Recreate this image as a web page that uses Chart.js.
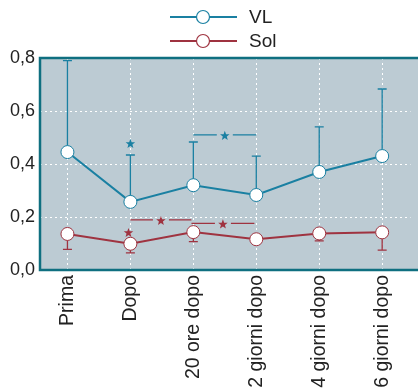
<!DOCTYPE html>
<html>
<head>
<meta charset="utf-8">
<script src="https://cdn.jsdelivr.net/npm/chart.js@4.4.1/dist/chart.umd.min.js"></script>
<style>
  html, body { margin: 0; padding: 0; background: #fff; overflow: hidden; }
  #wrap { width: 418px; height: 392px; }
</style>
</head>
<body>
<div id="wrap"><canvas id="chart" width="418" height="392"></canvas></div>
<script>
// data
const labels = ['Prima', 'Dopo', '20 ore dopo', '2 giorni dopo', '4 giorni dopo', '6 giorni dopo'];
const vlMean  = [0.445, 0.257, 0.32, 0.283, 0.37, 0.43];
const vlUpper = [0.79, 0.434, 0.483, 0.43, 0.54, 0.683];
const solMean  = [0.136, 0.099, 0.143, 0.116, 0.138, 0.142];
const solLower = [0.078, 0.065, 0.107, 0.116, 0.11, 0.075];
const yTicks = [0, 0.2, 0.4, 0.6, 0.8];

// significance marks (data units)
const vlStars = [{ x: 1, y: 0.476 }];
const vlBrackets = [{ from: 2, to: 3, y: 0.51 }];
const solStars = [{ x: 0.97, y: 0.14 }];
const solBrackets = [{ from: 1, to: 1.97, y: 0.189 }, { from: 1.97, to: 2.97, y: 0.176 }];

const VL_COL = '#1a80a2';
const SOL_COL = '#9f3340';
const BORDER = '#0f6f80';
const BG = '#bccbd3';
const FONT = '"Liberation Sans", Arial, sans-serif';

function star(ctx, cx, cy, r, col) {
  ctx.save();
  ctx.fillStyle = col;
  ctx.beginPath();
  for (let i = 0; i < 10; i++) {
    const a = -Math.PI / 2 + i * Math.PI / 5;
    const rr = i % 2 ? r * 0.42 : r;
    ctx.lineTo(cx + rr * Math.cos(a), cy + rr * Math.sin(a));
  }
  ctx.closePath();
  ctx.fill();
  ctx.restore();
}

const decor = {
  id: 'decor',
  beforeDraw(chart) {
    const { ctx, chartArea: a } = chart;
    ctx.save();
    ctx.fillStyle = BG;
    ctx.fillRect(a.left, a.top, chart.width - a.left, a.bottom - a.top);
    ctx.restore();
  },
  beforeDatasetsDraw(chart) {
    const { ctx, scales: { x, y } } = chart;
    ctx.save();
    ctx.lineWidth = 1.3;
    // VL error bars (up)
    ctx.strokeStyle = VL_COL;
    vlMean.forEach((m, i) => {
      const px = x.getPixelForValue(i);
      const top = y.getPixelForValue(vlUpper[i]);
      ctx.beginPath();
      ctx.moveTo(px, y.getPixelForValue(m));
      ctx.lineTo(px, top);
      ctx.moveTo(px - 4.5, top);
      ctx.lineTo(px + 4.5, top);
      ctx.stroke();
    });
    // Sol error bars (down)
    ctx.strokeStyle = SOL_COL;
    solMean.forEach((m, i) => {
      if (solLower[i] >= m) return;
      const px = x.getPixelForValue(i);
      const bot = y.getPixelForValue(solLower[i]);
      ctx.beginPath();
      ctx.moveTo(px, y.getPixelForValue(m));
      ctx.lineTo(px, bot);
      ctx.moveTo(px - 4.5, bot);
      ctx.lineTo(px + 4.5, bot);
      ctx.stroke();
    });
    // brackets with stars
    const drawBr = (list, col) => {
      ctx.strokeStyle = col;
      list.forEach(b => {
        const x1 = x.getPixelForValue(b.from), x2 = x.getPixelForValue(b.to);
        const py = y.getPixelForValue(b.y), mid = (x1 + x2) / 2;
        ctx.beginPath();
        ctx.moveTo(x1, py); ctx.lineTo(mid - 8, py);
        ctx.moveTo(mid + 8, py); ctx.lineTo(x2, py);
        ctx.stroke();
        star(ctx, mid, py + 1, 5, col);
      });
    };
    drawBr(vlBrackets, VL_COL);
    drawBr(solBrackets, SOL_COL);
    vlStars.forEach(s => star(ctx, x.getPixelForValue(s.x), y.getPixelForValue(s.y), 5, VL_COL));
    solStars.forEach(s => star(ctx, x.getPixelForValue(s.x), y.getPixelForValue(s.y), 5, SOL_COL));
    ctx.restore();
  },
  afterDraw(chart) {
    const { ctx, chartArea: a } = chart;
    ctx.save();
    // frame: left, top, bottom
    ctx.strokeStyle = BORDER;
    ctx.lineWidth = 2.5;
    ctx.beginPath();
    ctx.moveTo(chart.width, a.top);
    ctx.lineTo(a.left, a.top);
    ctx.lineTo(a.left, a.bottom);
    ctx.lineTo(chart.width, a.bottom);
    ctx.stroke();
    // legend
    const rows = [['VL', VL_COL, 17], ['Sol', SOL_COL, 41]];
    rows.forEach(([txt, col, ly]) => {
      ctx.strokeStyle = col;
      ctx.lineWidth = 2;
      ctx.beginPath();
      ctx.moveTo(170, ly); ctx.lineTo(237, ly);
      ctx.stroke();
      ctx.fillStyle = '#fff';
      ctx.lineWidth = 1.2;
      ctx.beginPath();
      ctx.arc(203, ly, 6.5, 0, Math.PI * 2);
      ctx.fill(); ctx.stroke();
      ctx.fillStyle = '#222';
      ctx.font = '19px ' + FONT;
      ctx.textBaseline = 'middle';
      ctx.fillText(txt, 249, ly + 1);
    });
    ctx.restore();
  }
};

const mk = (arr) => arr.map((v, i) => ({ x: i, y: v }));
const ds = (label, data, col) => ({
  label, data: mk(data),
  borderColor: col, borderWidth: 2,
  pointRadius: 6.5, pointBackgroundColor: '#fff',
  pointBorderColor: col, pointBorderWidth: 1,
  tension: 0
});

new Chart(document.getElementById('chart'), {
  type: 'line',
  data: { datasets: [ds('VL', vlMean, VL_COL), ds('Sol', solMean, SOL_COL)] },
  options: {
    responsive: false,
    animation: false,
    layout: { padding: { top: 58, left: 0, right: 0, bottom: 0 } },
    plugins: { legend: { display: false }, tooltip: { enabled: false } },
    scales: {
      x: {
        type: 'linear',
        min: -0.436, max: 5.45,
        afterBuildTicks: s => { s.ticks = labels.map((_, i) => ({ value: i })); },
        afterFit: s => { s.height = 122; },
        grid: { color: '#fff', lineWidth: 1, drawTicks: false },
        border: { display: false, dash: [2, 3] },
        ticks: {
          autoSkip: false, maxRotation: 90, minRotation: 90, padding: 5,
          color: '#222', font: { family: FONT, size: 19.5 },
          callback: v => labels[v]
        }
      },
      y: {
        min: 0, max: 0.8,
        afterBuildTicks: s => { s.ticks = yTicks.map(v => ({ value: v })); },
        afterFit: s => { s.width = 40; },
        grid: { color: '#fff', lineWidth: 1, drawTicks: false },
        border: { display: false, dash: [2, 3] },
        ticks: {
          padding: 5, color: '#222', font: { family: FONT, size: 18 },
          callback: v => v.toFixed(1).replace('.', ',')
        }
      }
    }
  },
  plugins: [decor]
});
</script>
</body>
</html>
